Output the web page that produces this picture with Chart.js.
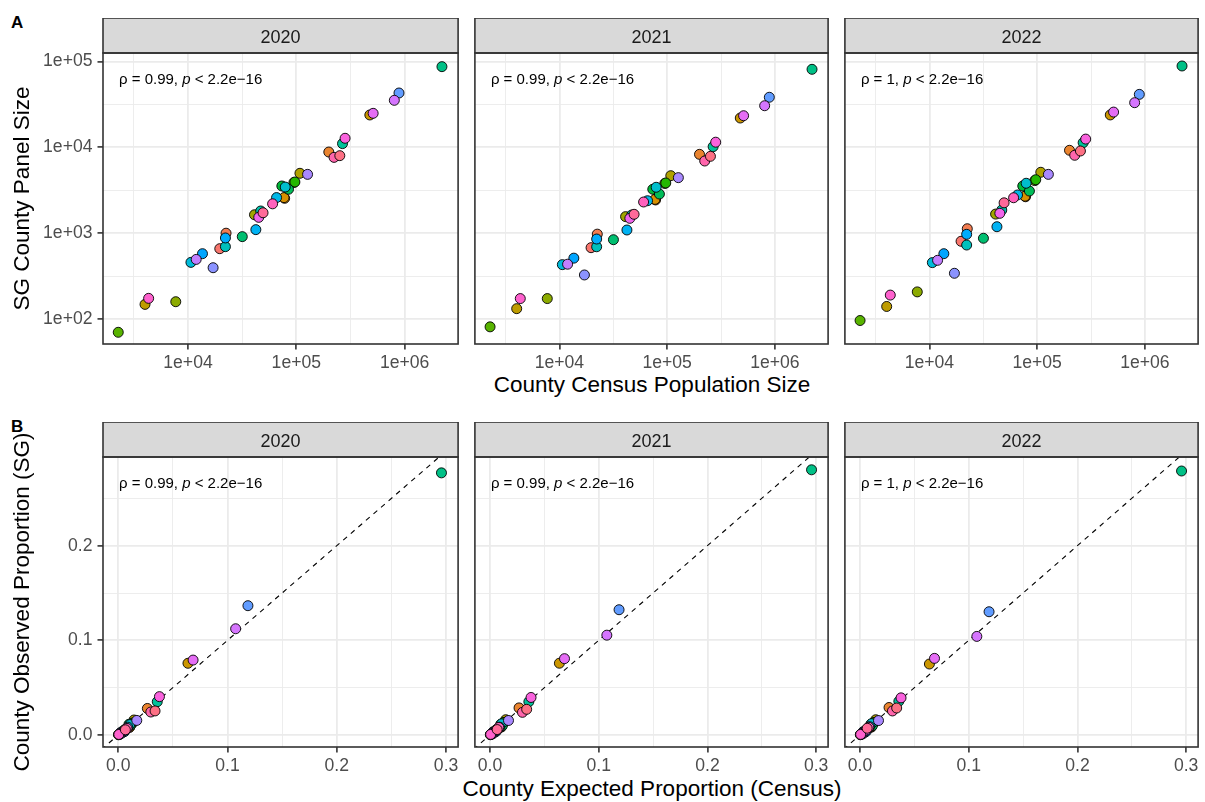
<!DOCTYPE html>
<html>
<head>
<meta charset="utf-8">
<script src="https://cdn.jsdelivr.net/npm/chart.js@4.4.0/dist/chart.umd.min.js"></script>
<style>
  html, body { margin: 0; padding: 0; background: #fff; overflow: hidden; }
  body { width: 1205px; height: 802px; position: relative; font-family: 'Liberation Sans', Arial, sans-serif; }
  canvas { position: absolute; }
  .tag { position: absolute; font-weight: bold; font-size: 17px; line-height: 17px; color: #000; }
  .xtitle { position: absolute; left: 302px; width: 700px; text-align: center;
            font-size: 22.5px; line-height: 26px; color: #000; white-space: nowrap; }
</style>
</head>
<body>
<div class="tag" style="left:11px;top:14px">A</div>
<div class="tag" style="left:11px;top:418px">B</div>
<div class="xtitle" style="top:372px">County Census Population Size</div>
<div class="xtitle" style="top:776px">County Expected Proportion (Census)</div>
<script>
// counties in the order ggplot colours them (alphabetical)
const counties = ['Adams', 'Asotin', 'Benton', 'Chelan', 'Clallam', 'Clark', 'Columbia', 'Cowlitz',
  'Douglas', 'Ferry', 'Franklin', 'Garfield', 'Grant', 'Grays Harbor', 'Island', 'Jefferson', 'King',
  'Kitsap', 'Kittitas', 'Klickitat', 'Lewis', 'Lincoln', 'Mason', 'Okanogan', 'Pacific', 'Pend Oreille',
  'Pierce', 'San Juan', 'Skagit', 'Skamania', 'Snohomish', 'Spokane', 'Stevens', 'Thurston',
  'Wahkiakum', 'Walla Walla', 'Whatcom', 'Whitman', 'Yakima'];

// census population (x)
const censusPop = [19650, 22450, 199500, 78000, 77000, 477000, 4010, 108000,
  41100, 7710, 95000, 2270, 97000, 73500, 84700, 31700, 2210000,
  267000, 46900, 22150, 79000, 10640, 65700, 42300, 22150, 13600,
  887000, 17050, 127000, 11900, 803000, 512000, 45000, 282000,
  4330, 60400, 223000, 49300, 252000];

// SG panel size per county (y), one array per year
const panel2020 = [660, 1000, 8830, 2550, 2600, 23880, 148, 4990,
  1640, 159, 3900, 70, 3950, 3550, 3250, 912, 87300,
  11070, 1815, 697, 3450, 457, 2600, 1100, 880, 577,
  43060, 396, 4850, 495, 35380, 24950, 1530, 12770,
  174, 2200, 7650, 1730, 8010];
const panel2021 = [678, 975, 8300, 2440, 2480, 22000, 132, 4680,
  1560, 173, 3800, 81, 3850, 3250, 2860, 840, 81300,
  10200, 1630, 695, 3430, 430, 2390, 1090, 855, 512,
  38400, 326, 4440, 435, 30600, 23400, 1490, 11500,
  173, 2310, 6940, 1660, 7870];
const panel2022 = [805, 1127, 9250, 2660, 2700, 23900, 140, 5130,
  1670, 207, 4100, 96, 4200, 3550, 3100, 873, 88900,
  11350, 1860, 728, 3820, 454, 2790, 1190, 970, 577,
  41500, 341, 4850, 483, 33200, 25800, 1705, 12500,
  190, 2590, 8090, 2260, 9080];

const years = ['2020', '2021', '2022'];
const panelByYear = [panel2020, panel2021, panel2022];
const rhoLabels = ['0.99', '0.99', '1'];

const logTicks = [1e2, 1e3, 1e4, 1e5, 1e6];
const logTickLabels = ['1e+02', '1e+03', '1e+04', '1e+05', '1e+06'];
const propTicks = [0, 0.1, 0.2, 0.3];
const propTickLabels = ['0.0', '0.1', '0.2', '0.3'];
const refLine = [-0.05, 0.35]; // y = x

// ---- layout ----
const COLS = [103, 473, 843];
const PANEL_W = 358;
const STRIP_H = 35;
const ROWS = [
  { stripTop: 18, panelH: 291, axisH: 54 },
  { stripTop: 422, panelH: 290, axisH: 56 }
];
const FONT = "'Liberation Sans', Arial, sans-serif";
Chart.defaults.font.family = FONT;

// ggplot2 hue palette: hcl(h, 100, 65)
function hcl(h, c, l) {
  const hr = h * Math.PI / 180;
  const U = c * Math.cos(hr), V = c * Math.sin(hr);
  const Y = Math.pow((l + 16) / 116, 3);
  const u = U / (13 * l) + 0.19784, v = V / (13 * l) + 0.46834;
  const X = 9 * Y * u / (4 * v), Z = Y * (12 - 3 * u - 20 * v) / (4 * v);
  const lin = [
    3.240479 * X - 1.537150 * Y - 0.498535 * Z,
    -0.969256 * X + 1.875992 * Y + 0.041556 * Z,
    0.055648 * X - 0.204043 * Y + 1.057311 * Z
  ];
  const ch = lin.map(x => {
    const g = x <= 0.0031308 ? 12.92 * x : 1.055 * Math.pow(x, 1 / 2.4) - 0.055;
    return Math.round(Math.min(1, Math.max(0, g)) * 255);
  });
  return `rgb(${ch[0]},${ch[1]},${ch[2]})`;
}
const colors = counties.map((_, i) => hcl(15 + i * 360 / counties.length, 100, 65));

const share = arr => {
  const total = arr.reduce((s, v) => s + v, 0);
  return arr.map(v => v / total);
};

// major breaks plus the minor ones midway between them
function gridValues(majors, log) {
  const out = majors.slice();
  for (let i = 0; i < majors.length - 1; i++) {
    out.push(log ? Math.sqrt(majors[i] * majors[i + 1]) : (majors[i] + majors[i + 1]) / 2);
  }
  return out.sort((a, b) => a - b);
}
function findMajor(majors, v, log) {
  return majors.findIndex(t => log ? Math.abs(Math.log10(t) - Math.log10(v)) < 1e-6 : Math.abs(t - v) < 1e-9);
}

const panelDecor = {
  id: 'panelDecor',
  afterDraw(chart, args, opts) {
    const { ctx, chartArea: a } = chart;
    ctx.save();
    ctx.fillStyle = '#D9D9D9';
    ctx.fillRect(a.left, a.top - STRIP_H, a.width, STRIP_H);
    ctx.strokeStyle = '#333333';
    ctx.lineWidth = 1.6;
    ctx.strokeRect(a.left, a.top - STRIP_H, a.width, STRIP_H);
    ctx.strokeRect(a.left, a.top, a.width, a.height);
    ctx.fillStyle = '#1A1A1A';
    ctx.font = `18px ${FONT}`;
    ctx.textAlign = 'center';
    ctx.textBaseline = 'alphabetic';
    ctx.fillText(opts.year, a.left + a.width / 2, a.top - STRIP_H / 2 + 7);

    // correlation label with italic p
    const parts = [
      [`ρ = ${opts.rho}, `, 'normal'],
      ['p', 'italic'],
      [' < 2.2e\u221216', 'normal']
    ];
    let x = a.left + 16;
    const y = a.top + 30.5;
    ctx.fillStyle = '#000';
    ctx.textAlign = 'left';
    parts.forEach(([t, style]) => {
      ctx.font = `${style} 15px ${FONT}`;
      ctx.fillText(t, x, y);
      x += ctx.measureText(t).width;
    });
    ctx.restore();
  }
};

function makePanel(row, col) {
  const r = ROWS[row];
  const ax = col === 0 ? COLS[0] : 4;
  const canvas = document.createElement('canvas');
  const w = ax + PANEL_W + 3;
  const h = STRIP_H + r.panelH + r.axisH;
  canvas.width = w;
  canvas.height = h;
  canvas.style.left = (COLS[col] - ax) + 'px';
  canvas.style.top = r.stripTop + 'px';
  document.body.appendChild(canvas);

  const isLog = row === 0;
  const majors = isLog ? logTicks : propTicks;
  const labels = isLog ? logTickLabels : propTickLabels;
  const xs = isLog ? censusPop : share(censusPop);
  const ys = isLog ? panelByYear[col] : share(panelByYear[col]);

  const isMajor = c => c.tick && findMajor(majors, c.tick.value, isLog) >= 0;
  const grid = (withTicks) => ({
    color: '#EBEBEB',
    lineWidth: c => isMajor(c) ? 1.8 : 0.9,
    drawTicks: withTicks,
    tickLength: 5.5,
    tickWidth: 1.6,
    tickColor: c => isMajor(c) ? '#333333' : 'rgba(0,0,0,0)'
  });
  const tickOpts = (show, pad) => ({
    display: show,
    autoSkip: false,
    maxRotation: 0,
    minRotation: 0,
    padding: pad,
    color: '#4D4D4D',
    font: { size: 17.6 },
    callback: v => {
      const i = findMajor(majors, v, isLog);
      return i >= 0 ? labels[i] : '';
    }
  });
  const setTicks = s => {
    s.ticks = gridValues(majors, isLog)
      .filter(v => v >= s.min - 1e-12 && v <= s.max + 1e-12)
      .map(v => ({ value: v }));
  };

  const datasets = [{
    type: 'scatter',
    data: xs.map((x, i) => ({ x, y: ys[i] })),
    pointBackgroundColor: colors,
    pointBorderColor: '#000',
    pointBorderWidth: 0.9,
    pointRadius: 5,
    clip: false,
    order: 0
  }];
  if (!isLog) {
    datasets.push({
      type: 'line',
      data: refLine.map(v => ({ x: v, y: v })),
      borderColor: '#000',
      borderWidth: 1.1,
      borderDash: [5, 5],
      pointRadius: 0,
      order: 1
    });
  }

  new Chart(canvas, {
    type: 'scatter',
    data: { datasets },
    options: {
      responsive: false,
      animation: false,
      events: [],
      layout: { padding: { top: STRIP_H, right: 3, left: 0, bottom: 0 } },
      plugins: {
        legend: { display: false },
        tooltip: { enabled: false },
        panelDecor: { year: years[col], rho: rhoLabels[col] }
      },
      scales: {
        x: {
          type: isLog ? 'logarithmic' : 'linear',
          min: isLog ? Math.pow(10, 3.2152) : -0.0139,
          max: isLog ? Math.pow(10, 6.4936) : 0.311,
          afterBuildTicks: setTicks,
          afterFit: s => {
            s.height = r.axisH;
            s.paddingLeft = s.paddingRight = s.paddingTop = s.paddingBottom = 0;
          },
          grid: grid(true),
          border: { display: false },
          ticks: tickOpts(true, 3.5)
        },
        y: {
          type: isLog ? 'logarithmic' : 'linear',
          min: isLog ? Math.pow(10, 1.7086) : -0.0127,
          max: isLog ? Math.pow(10, 5.1002) : 0.2937,
          afterBuildTicks: setTicks,
          afterFit: s => {
            s.width = ax;
            s.paddingLeft = s.paddingRight = s.paddingTop = s.paddingBottom = 0;
          },
          grid: grid(col === 0),
          border: { display: false },
          ticks: tickOpts(col === 0, 5),
          title: {
            display: col === 0,
            text: isLog ? 'SG County Panel Size' : 'County Observed Proportion (SG)',
            color: '#000',
            font: { size: 22.5 },
            padding: { top: 9, bottom: 0 }
          }
        }
      }
    },
    plugins: [panelDecor]
  });
}

for (let row = 0; row < 2; row++) {
  for (let col = 0; col < 3; col++) makePanel(row, col);
}
</script>
</body>
</html>
